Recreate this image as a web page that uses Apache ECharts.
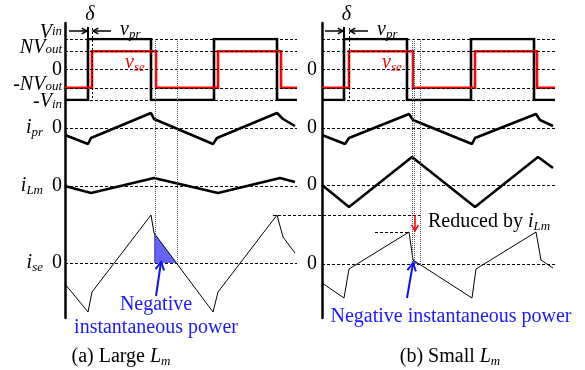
<!DOCTYPE html>
<html><head><meta charset="utf-8">
<script src="https://cdn.jsdelivr.net/npm/echarts@6/dist/echarts.min.js"></script>
<style>html,body{margin:0;padding:0;background:#fff}#c{width:585px;height:370px}</style>
</head><body><div id="c"></div>
<script>
// ---- data (time in common units from the left edge of each plot) ----
const spanA = 232, spanB = 233;
const vprEdgesA = [23, 86, 149, 212];
const vseEdgesA = [27, 91, 153, 216];
const vprEdgesB = [22, 85, 149, 212];
const vseEdgesB = [27, 91, 153, 215];
const levelVin = 1, levelNVout = 0.6;
const voltTicks = [1, 0.6, 0, -0.6, -1];
const vinTicks = [1, 0, -1];
const vinLabels = ['{iu|V}{su|in}', '{n|0}', '{nd|-}{id|V}{sd|in}'];
const nvTicks = [0.6, -0.6];
const nvLabels = ['{im|NV}{sm|out}', '{nm|-}{im|NV}{sm|out}'];
const currentLabelsA = ['{i|i}{s|pr}{sp| }{n|0}', '{i|i}{s|Lm}{sp| }{n|0}', '{i|i}{s|se}{sp| }{n|0}'];
const zeroLabel = '{n|0}';
const iprA = [[0,-7],[23,-16],[26,-10],[86,15],[89,9],[148,-16],[152,-10],[212,15],[218,9],[230,2]];
const iLmA = [[0,0],[26,-7],[89,8],[153,-7],[215,8],[230,4]];
const iseA = [[0,-21],[23,-49],[27,-29],[86,48],[89,30],[148,-49],[153,-29],[212,48],[218,26],[230,10]];
const negPowerA = [[89,30],[111.4,0]];
const iprB = [[0,-7],[23,-16],[27,-10],[87,14],[91,8],[150,-16],[153,-10],[214,14],[218,8],[231,2]];
const iLmB = [[0,0],[27,-22],[90,28],[153,-22],[216,28],[231,17]];
const iseB = [[0,-19],[22,-34],[27,-5],[87,32],[91,4],[150,-34],[154,-5],[214,32],[219,4],[231,-4]];
const negPowerB = [[91,4],[97,0]];
const guideTimesA = [90, 112];
const guideTimesB = [89.5, 91.5, 98];
const captions = ['(a) Large {i|L}{s|m}', '(b) Small {i|L}{s|m}'];

// ---- styling ----
const FONT = '"Liberation Serif", "Times New Roman", Times, serif';
const MAIN = {fontFamily: FONT, fontStyle: 'italic', fontSize: 20, lineHeight: 22, color: '#000'};
const SUB = {fontFamily: FONT, fontStyle: 'italic', fontSize: 13, lineHeight: 12, verticalAlign: 'bottom', color: '#000'};
const NUM = {fontFamily: FONT, fontSize: 20, lineHeight: 22, color: '#000'};
const shift = (s, pad) => Object.assign({}, s, {padding: pad});
const RICH = {
  i: MAIN, s: SUB, n: NUM,
  iu: shift(MAIN, [0,0,12,0]), su: shift(SUB, [0,0,12,0]),
  im: shift(MAIN, [0,0,6,0]),  sm: shift(SUB, [0,0,6,0]),  nm: shift(NUM, [0,0,6,0]),
  id: shift(MAIN, [3,0,0,0]),  sd: shift(SUB, [3,0,0,0]),  nd: shift(NUM, [3,0,0,0]),
  sp: {fontFamily: FONT, fontSize: 20, width: 9}
};
function richColor(c) { const r = {}; for (const k in RICH) r[k] = Object.assign({}, RICH[k], {color: c}); return r; }

function square(edges, hi, span) {
  const pts = []; let lv = -hi; pts.push([0, lv]);
  edges.forEach(t => { pts.push([t, lv]); lv = -lv; pts.push([t, lv]); });
  pts.push([span, lv]); return pts;
}
function hLines(vals) {
  return {silent: true, symbol: ['none','none'], label: {show: false}, animation: false,
    lineStyle: {color: '#000', type: [3,2], width: 1}, emphasis: {disabled: true},
    data: vals.map(v => ({yAxis: v}))};
}
function labelAxis(gi, range, ticks, labels, margin) {
  return {type: 'value', gridIndex: gi, min: range[0], max: range[1], position: 'left', offset: 0,
    axisLine: {show: false}, axisTick: {show: false}, splitLine: {show: false},
    axisLabel: {show: true, customValues: ticks, margin: margin, rich: RICH,
      showMinLabel: true, showMaxLabel: true, hideOverlap: false,
      fontFamily: FONT, fontSize: 20, color: '#000', align: 'right', verticalAlign: 'middle',
      formatter: v => { const i = ticks.findIndex(t => Math.abs(t - v) < 1e-6); return i < 0 ? '' : labels[i]; }}};
}

const panels = [
  {left: 65, width: 232, span: spanA, tops: [39,108,151,205], vpr: vprEdgesA, vse: vseEdgesA,
   ipr: iprA, iLm: iLmA, ise: iseA, neg: negPowerA, margin: 3,
   labels: [vinLabels, [currentLabelsA[0]], [currentLabelsA[1]], [currentLabelsA[2]]],
   ticks: [vinTicks, [0], [0], [0]]},
  {left: 322, width: 233, span: spanB, tops: [39,108,150,206], vpr: vprEdgesB, vse: vseEdgesB,
   ipr: iprB, iLm: iLmB, ise: iseB, neg: negPowerB, margin: 5,
   labels: [[zeroLabel], [zeroLabel], [zeroLabel], [zeroLabel]],
   ticks: [[0], [0], [0], [0]]}
];
const rowRange = [[-1,1],[-20,20],[-35,35],[-58,58]];
const rowHeight = [61,40,70,116];

const option = {animation: false, backgroundColor: '#fff', grid: [], xAxis: [], yAxis: [], series: []};
panels.forEach((p, k) => {
  for (let r = 0; r < 4; r++) {
    const gi = 4*k + r;
    option.grid.push({left: p.left, width: p.width, top: p.tops[r], height: rowHeight[r], outerBoundsMode: 'none', containLabel: false});
    option.xAxis.push({type: 'value', gridIndex: gi, min: 0, max: p.span, show: false});
    option.yAxis.push(labelAxis(gi, rowRange[r], p.ticks[r], p.labels[r], p.margin));
  }
});
panels.forEach((p, k) => {
  option.grid.push({left: p.left, width: p.width, top: 23, height: 295, outerBoundsMode: 'none', containLabel: false});
  option.xAxis.push({type: 'value', gridIndex: 8 + k, min: 0, max: 1, show: false});
  option.yAxis.push({type: 'value', gridIndex: 8 + k, min: 0, max: 1, position: 'left',
    axisLine: {show: true, onZero: false, lineStyle: {color: '#000', width: 2.5}},
    axisTick: {show: false}, axisLabel: {show: false}, splitLine: {show: false}});
});
// second label axis for the ±N·Vout levels of the left voltage row
option.yAxis.push(labelAxis(0, rowRange[0], nvTicks, nvLabels, panels[0].margin));

panels.forEach((p, k) => {
  const g = 4*k;
  const base = {type: 'line', symbol: 'none', silent: true, animation: false};
  option.series.push(
    Object.assign({}, base, {xAxisIndex: g, yAxisIndex: g, data: square(p.vpr, levelVin, p.span), z: 3,
      lineStyle: {color: '#000', width: 2.6, join: 'miter', cap: 'butt'}, markLine: hLines(voltTicks)}),
    Object.assign({}, base, {xAxisIndex: g, yAxisIndex: g, data: square(p.vse, levelNVout, p.span), z: 4,
      lineStyle: {color: '#ff0000', width: 2.6, join: 'miter', cap: 'butt'}}),
    Object.assign({}, base, {xAxisIndex: g+1, yAxisIndex: g+1, data: p.ipr, z: 3,
      lineStyle: {color: '#000', width: 2.6}, markLine: hLines([0])}),
    Object.assign({}, base, {xAxisIndex: g+2, yAxisIndex: g+2, data: p.iLm, z: 3,
      lineStyle: {color: '#000', width: 2.6}, markLine: hLines([0])}),
    Object.assign({}, base, {xAxisIndex: g+3, yAxisIndex: g+3, data: p.ise, z: 3,
      lineStyle: {color: '#000', width: 1}, markLine: hLines([0])}),
    Object.assign({}, base, {xAxisIndex: g+3, yAxisIndex: g+3, data: p.neg, z: 2,
      lineStyle: {width: 0}, areaStyle: {color: '#6464fa', opacity: 1}})
  );
});

const chart = echarts.init(document.getElementById('c'), null, {renderer: 'canvas'});
chart.setOption(option);

// ---- annotations positioned through the axes ----
const P = (g, x, y) => chart.convertToPixel({xAxisIndex: g, yAxisIndex: g}, [x, y]);
const G = [];
const crisp = v => Math.round(v) + 0.5;
function line(x1, y1, x2, y2, color, w, dash) {
  G.push({type: 'line', silent: true, z: 20, shape: {x1, y1, x2, y2},
    style: {stroke: color, lineWidth: w, lineDash: dash || null}});
}
function arrow(x1, y1, x2, y2, color, w, h) {
  line(x1, y1, x2, y2, color, w);
  const a = Math.atan2(y2 - y1, x2 - x1), s = 0.5;
  G.push({type: 'polyline', silent: true, z: 21, shape: {points: [
    [x2 - h*Math.cos(a - s), y2 - h*Math.sin(a - s)], [x2, y2], [x2 - h*Math.cos(a + s), y2 - h*Math.sin(a + s)]]},
    style: {stroke: color, lineWidth: w, fill: null}});
}
function text(x, y, t, color, align, size) {
  G.push({type: 'text', silent: true, z: 22, x, y, style: {text: t, rich: richColor(color),
    fill: color, fontFamily: FONT, fontSize: size || 20, align: align || 'center', verticalAlign: 'middle'}});
}

[guideTimesA, guideTimesB].forEach((times, k) => {
  const g = 4*k;
  times.forEach(t => {
    const x = crisp(P(g, t, 0)[0]);
    line(x, P(g, t, levelVin)[1], x, P(g+3, t, 0)[1], '#555', 1, [1,1]);
  });
});

panels.forEach((p, k) => {
  const g = 4*k;
  const yTop = P(g, 0, levelVin)[1], yBot = P(g, 0, -levelVin)[1];
  const ay = yTop - 8;
  const xv = P(g, p.vpr[0], 0)[0], xs = P(g, p.vse[0], 0)[0];
  line(crisp(xs), ay - 3, crisp(xs), yBot, '#000', 1, [2,2]);
  line(xv, yTop - 12, xv, yTop, '#000', 2);
  arrow(xv - 19, ay, xv - 1, ay, '#000', 1.5, 6);
  arrow(xs + 19, ay, xs + 1, ay, '#000', 1.5, 6);
  text((xv + xs) / 2, 15, '{i|δ}', '#000');
  text(xs + 28, 30, '{i|v}{s|pr}', '#000', 'left');
  text(xs + 33, 63, '{i|v}{s|se}', '#ff0000', 'left');
  text(p.left + (k === 0 ? 56 : 128), 357, captions[k], '#000');
});

// reduced-peak markers
const peakY = P(3, 0, iseA[7][1])[1];
line(P(3, 208, 0)[0], crisp(peakY), P(7, 98, 0)[0], crisp(peakY), '#000', 1, [3,2]);
const redY = P(7, 0, iseB[3][1])[1];
line(P(7, 53, 0)[0], crisp(redY), P(7, 86, 0)[0], crisp(redY), '#000', 1, [3,2]);
const xr = P(7, 93, 0)[0];
arrow(xr, peakY, xr, redY - 1, '#ff0000', 1.5, 7);
text(xr + 13, 222, 'Reduced by {i|i}{s|Lm}', '#000', 'left');

// negative-power arrows and notes
const a1 = P(3, 91, -33), a2 = P(3, 96, 1);
arrow(a1[0], a1[1], a2[0], a2[1], '#1010ff', 2, 9);
const b1 = P(7, 85, -34), b2 = P(7, 91, 1);
arrow(b1[0], b1[1], b2[0], b2[1], '#1010ff', 2, 9);
text(156, 305, 'Negative', '#1a1aff');
text(156, 328, 'instantaneous power', '#1a1aff');
text(451, 317, 'Negative instantaneous power', '#1a1aff');

chart.setOption({graphic: {elements: G}});
</script>
</body></html>
